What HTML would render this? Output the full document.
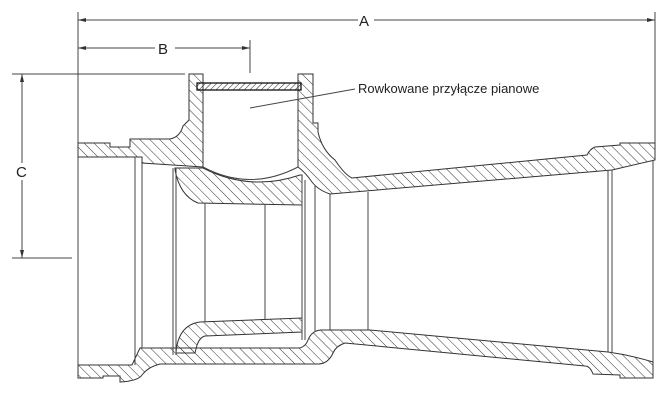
<!DOCTYPE html>
<html><head><meta charset="utf-8"><style>
html,body{margin:0;padding:0;background:#fff;width:668px;height:400px;overflow:hidden}
svg{display:block}
text{font-family:"Liberation Sans",sans-serif;fill:#222}
</style></head><body>
<svg width="668" height="400" viewBox="0 0 668 400" xmlns="http://www.w3.org/2000/svg">
<defs>
<pattern id="h" patternUnits="userSpaceOnUse" width="7" height="7" patternTransform="rotate(-45)">
<line x1="0" y1="0" x2="0" y2="7" stroke="#333" stroke-width="1"/>
</pattern>
<pattern id="h2" patternUnits="userSpaceOnUse" width="4" height="4" patternTransform="rotate(45)">
<line x1="0" y1="0" x2="0" y2="4" stroke="#222" stroke-width="1"/>
</pattern>
</defs>
<g stroke="#444" stroke-width="1" fill="none">
<line x1="78" y1="12" x2="78" y2="143"/>
<line x1="655" y1="12" x2="655" y2="143"/>
<line x1="78" y1="20" x2="358" y2="20"/>
<line x1="374" y1="20" x2="655" y2="20"/>
<line x1="250" y1="40" x2="250" y2="73"/>
<line x1="78" y1="48" x2="155" y2="48"/>
<line x1="175" y1="48" x2="250" y2="48"/>
<line x1="12" y1="74" x2="185" y2="74"/>
<line x1="12" y1="258" x2="72" y2="258"/>
<line x1="22" y1="74" x2="22" y2="163"/>
<line x1="22" y1="180" x2="22" y2="258"/>
</g>
<g fill="#333">
<polygon points="78,20 86,18 86,22"/><polygon points="655,20 647,18 647,22"/>
<polygon points="78,48 86,46 86,50"/><polygon points="250,48 242,46 242,50"/>
<polygon points="22,74 20,82 24,82"/><polygon points="22,258 20,250 24,250"/>
</g>
<text x="359" y="26" font-size="15">A</text>
<text x="158" y="54" font-size="15">B</text>
<text x="16" y="177" font-size="15">C</text>

<g stroke="#333" stroke-width="1" fill="url(#h)">
<path d="M78,143 L110,143 L110,147 L130,147 L130,139 L170,139 Q180,137 183,126 L189,120 L189,74 L203,74 L203,167 L142,163 L142,157 L78,157 Z"/>
<path d="M298,74 L313,74 L313,123 L318,123 L318,132 Q322,150 335,160 Q345,175 352,178 L587,155 Q590,149 595,147 L620,145 L620,143 L655,143 L655,160 L612,170 L330,194 Q318,190 312,182 Q305,172 298,167 Z"/>
<path d="M175,168 L203,168 Q250,192 300,175 L302,175 L302,205 L198,203 Q180,196 175,170 Z"/>
<path d="M78,365 L132,365 L140,348 L300,348 Q306,346 308,340 Q312,330 322,330 L370,330 L608,352 Q630,355 653,362 L653,378 L620,378 L620,375 L593,374 Q590,366 585,366 L345,343 Q336,346 333,353 Q328,364 318,364 L160,364 Q148,367 142,375 Q138,381 120,382 L120,376 L103,376 L103,378 L78,378 Z"/>
<path d="M176,353 Q178,325 200,322 L302,318 L302,332 L205,336 Q200,337 197,345 L195,353 Z"/>
</g>
<rect x="197" y="83" width="104" height="7" fill="url(#h2)" stroke="#111" stroke-width="1.3"/>
<g stroke="#444" stroke-width="1" fill="none">
<path d="M203,167 Q250,192 298,167"/>
<line x1="78" y1="157" x2="78" y2="365"/>
<line x1="135" y1="157" x2="135" y2="365"/>
<line x1="142" y1="163" x2="142" y2="348"/>
<line x1="173" y1="168" x2="173" y2="355"/>
<line x1="176" y1="168" x2="176" y2="355"/>
<line x1="205" y1="203" x2="205" y2="322"/>
<line x1="265" y1="204" x2="265" y2="320"/>
<line x1="302" y1="180" x2="302" y2="340"/>
<line x1="305" y1="180" x2="305" y2="340"/>
<line x1="315" y1="186" x2="315" y2="332"/>
<line x1="330" y1="194" x2="330" y2="330"/>
<line x1="368" y1="192" x2="368" y2="330"/>
<line x1="608" y1="170" x2="608" y2="352"/>
<line x1="612" y1="170" x2="612" y2="352"/>
<line x1="653" y1="160" x2="653" y2="362"/>
<line x1="355" y1="89" x2="250" y2="108"/>
</g>
<text x="358" y="93" font-size="13">Rowkowane przyłącze pianowe</text>
</svg>
</body></html>
